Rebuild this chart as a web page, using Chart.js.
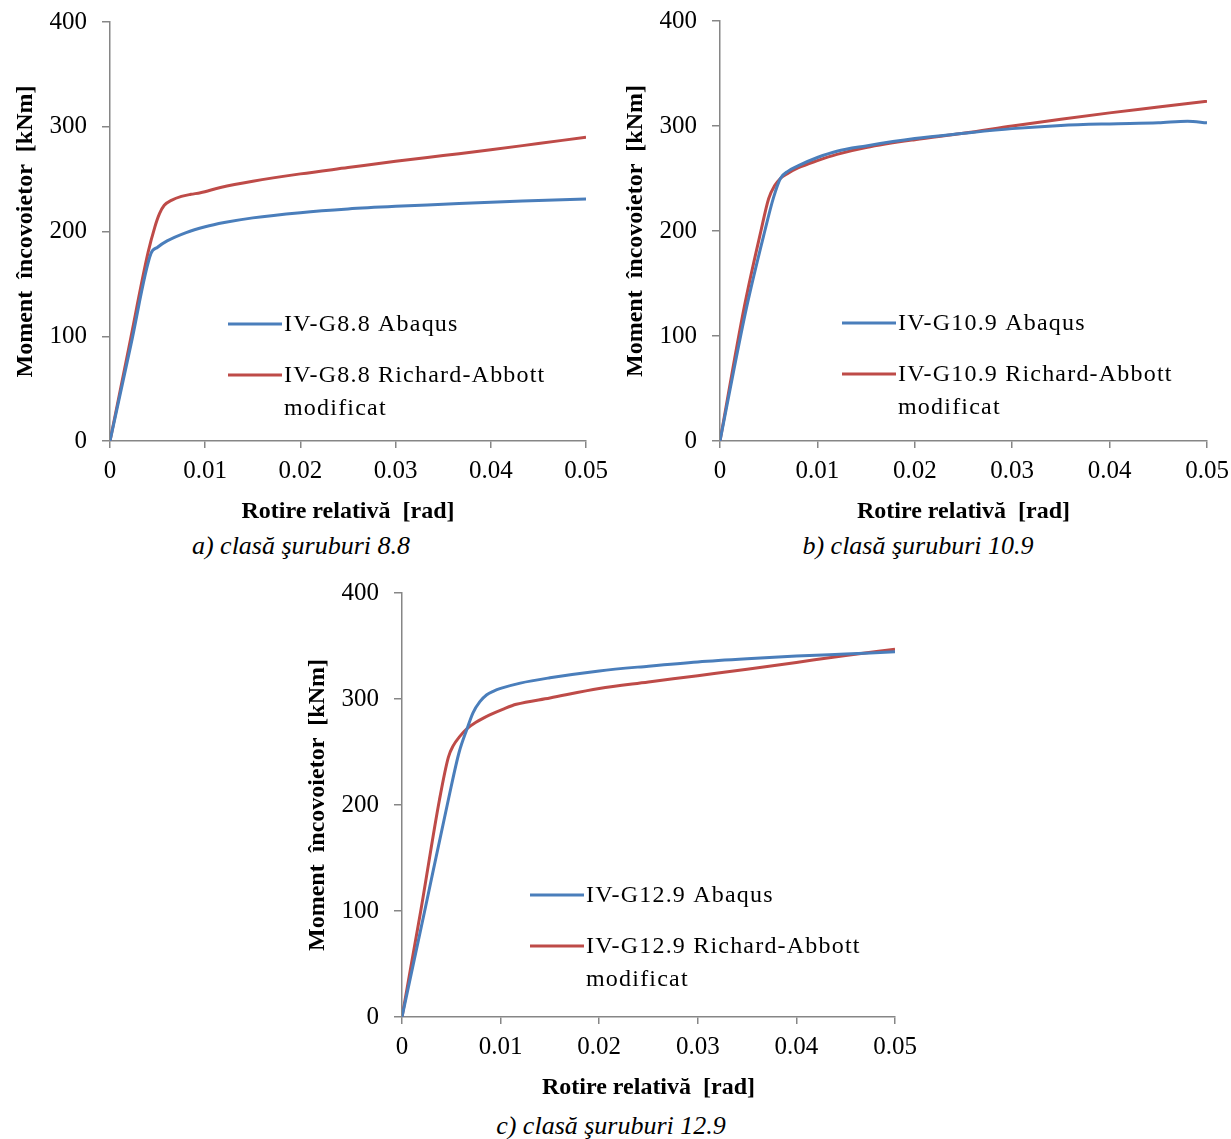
<!DOCTYPE html>
<html>
<head>
<meta charset="utf-8">
<script src="https://cdn.jsdelivr.net/npm/chart.js@4.4.0/dist/chart.umd.min.js"></script>
<style>
body { margin: 0; background: #fff; width: 1231px; height: 1139px; position: relative; overflow: hidden; }
canvas { position: absolute; }
.cap { position: absolute; font: italic 26px "Liberation Serif"; line-height: 30px; color: #000; white-space: nowrap; transform: translateX(-50%); }
</style>
</head>
<body>
<canvas id="graficoA" width="615" height="530" style="left:0;top:0"></canvas>
<canvas id="graficoB" width="621" height="530" style="left:610px;top:0"></canvas>
<canvas id="graficoC" width="640" height="535" style="left:292px;top:571px"></canvas>
<div class="cap" style="left:301px;top:531px">a) clasă şuruburi 8.8</div>
<div class="cap" style="left:918px;top:531px">b) clasă şuruburi 10.9</div>
<div class="cap" style="left:611px;top:1111px">c) clasă şuruburi 12.9</div>
<script>
// datos leidos del grafico
// a) 8.8
const rotA_abaqus = [0, 0.0022, 0.0043, 0.005, 0.006, 0.008, 0.010, 0.012, 0.015, 0.020, 0.025, 0.030, 0.035, 0.040, 0.045, 0.050];
const momA_abaqus = [0, 92, 179, 185, 191, 199, 204.5, 208.5, 213, 218, 221.5, 224, 226, 228, 229.5, 231];
const rotA_ra = [0, 0.002, 0.004, 0.0047, 0.0052, 0.0057, 0.0065, 0.0075, 0.0085, 0.0095, 0.0116, 0.015, 0.020, 0.025, 0.030, 0.035, 0.040, 0.045, 0.050];
const momA_ra = [0, 90, 180, 204, 217, 225, 230, 233.5, 235.5, 237, 242, 248, 255, 261, 267, 272.5, 278, 284, 290];

// b) 10.9
const rotB_abaqus = [0, 0.0027, 0.0046, 0.0055, 0.0062, 0.007, 0.008, 0.010, 0.012, 0.015, 0.020, 0.025, 0.030, 0.035, 0.040, 0.045, 0.048, 0.050];
const momB_abaqus = [0, 126, 200, 232, 250, 257, 262, 270, 276, 281, 288, 293, 297.5, 300.5, 302, 303, 304.5, 303];
const rotB_ra = [0, 0.0025, 0.0042, 0.005, 0.0056, 0.0062, 0.007, 0.008, 0.010, 0.012, 0.015, 0.020, 0.025, 0.030, 0.035, 0.040, 0.045, 0.050];
const momB_ra = [0, 128, 200, 231, 243, 250, 255, 260, 267, 273, 279.5, 287, 293, 300, 306.5, 312.5, 318, 323.5];

// c) 12.9
const rotC_abaqus = [0, 0.0023, 0.0047, 0.0058, 0.0066, 0.0072, 0.0079, 0.0086, 0.0093, 0.010, 0.012, 0.015, 0.020, 0.025, 0.030, 0.035, 0.040, 0.045, 0.050];
const momC_abaqus = [0, 100, 205, 250, 272, 287, 297.5, 304, 307.5, 310, 315, 320, 326.5, 331, 335, 338, 340.5, 342.5, 344.5];
const rotC_ra = [0, 0.0019, 0.0038, 0.0047, 0.0052, 0.0058, 0.0066, 0.0075, 0.0089, 0.0104, 0.0116, 0.015, 0.020, 0.025, 0.030, 0.035, 0.040, 0.045, 0.050];
const momC_ra = [0, 100, 205, 245, 256, 264, 272, 278, 285, 291, 295, 301, 310, 316, 322, 328, 334.5, 341, 347];

const ticksX = [0, 0.01, 0.02, 0.03, 0.04, 0.05];
const ticksY = [0, 100, 200, 300, 400];

const leyendaA = [['IV-G8.8 Abaqus'], ['IV-G8.8 Richard-Abbott', 'modificat']];
const leyendaB = [['IV-G10.9 Abaqus'], ['IV-G10.9 Richard-Abbott', 'modificat']];
const leyendaC = [['IV-G12.9 Abaqus'], ['IV-G12.9 Richard-Abbott', 'modificat']];

const AZUL = '#4A7EBB';
const ROJO = '#BE4B48';
const GRIS = '#868686';
const FUENTE = '"Liberation Serif", "Times New Roman", serif';

function puntos(xs, ys) {
    return xs.map((x, i) => ({ x: x, y: ys[i] }));
}

// leyenda dentro del area (con texto en dos lineas)
const leyendaPropia = {
    id: 'leyendaPropia',
    afterDatasetsDraw(chart, args, opts) {
        const ctx = chart.ctx;
        const area = chart.chartArea;
        const x = area.left + opts.left;
        let y = area.top + opts.top;
        ctx.save();
        ctx.font = '24px ' + FUENTE;
        ctx.letterSpacing = '1.2px';
        ctx.textBaseline = 'middle';
        ctx.textAlign = 'left';
        chart.data.datasets.forEach((ds, i) => {
            ctx.strokeStyle = ds.borderColor;
            ctx.lineWidth = 3;
            ctx.beginPath();
            ctx.moveTo(x, y);
            ctx.lineTo(x + 54, y);
            ctx.stroke();
            ctx.fillStyle = '#000';
            opts.textos[i].forEach((t, j) => ctx.fillText(t, x + 56, y + 1 + j * 33));
            y += 51;
        });
        ctx.restore();
    }
};

function crearGrafico(id, abaqus, ra, textos, pad, leg) {
    const alto = document.getElementById(id).height;
    return new Chart(document.getElementById(id), {
        type: 'line',
        data: {
            datasets: [{
                label: textos[0].join(' '),
                data: abaqus,
                borderColor: AZUL,
                borderWidth: 3,
                pointRadius: 0,
                fill: false,
                cubicInterpolationMode: 'monotone'
            }, {
                label: textos[1].join(' '),
                data: ra,
                borderColor: ROJO,
                borderWidth: 3,
                pointRadius: 0,
                fill: false,
                cubicInterpolationMode: 'monotone'
            }]
        },
        options: {
            responsive: false,
            animation: false,
            layout: { padding: { top: pad.top, right: pad.right, bottom: 0, left: 0 } },
            plugins: {
                legend: { display: false },
                tooltip: { enabled: false },
                leyendaPropia: { left: leg.left, top: leg.top, textos: textos }
            },
            scales: {
                x: {
                    type: 'linear',
                    min: 0,
                    max: 0.05,
                    afterBuildTicks: s => { s.ticks = ticksX.map(v => ({ value: v })); },
                    afterFit: s => {
                        s.height = alto - pad.bottom;
                        s.paddingLeft = 0;
                        s.paddingRight = 0;
                    },
                    ticks: {
                        callback: v => v === 0 ? '0' : v.toFixed(2),
                        color: '#000',
                        font: { family: FUENTE, size: 25 },
                        padding: 8,
                        maxRotation: 0,
                        autoSkip: false
                    },
                    grid: { drawOnChartArea: false, tickLength: 7, color: GRIS, lineWidth: 1.5 },
                    border: { color: GRIS, width: 1.5 },
                    title: {
                        display: true,
                        text: 'Rotire relativă  [rad]',
                        color: '#000',
                        font: { family: FUENTE, size: 24, weight: 'bold' },
                        padding: { top: 0, bottom: 4 }
                    }
                },
                y: {
                    min: 0,
                    max: 400,
                    afterBuildTicks: s => { s.ticks = ticksY.map(v => ({ value: v })); },
                    afterFit: s => {
                        s.width = 110;
                        s.paddingTop = 0;
                        s.paddingBottom = 0;
                    },
                    ticks: {
                        color: '#000',
                        font: { family: FUENTE, size: 25 },
                        padding: 15
                    },
                    grid: { drawOnChartArea: false, tickLength: 8, color: GRIS, lineWidth: 1.5 },
                    border: { color: GRIS, width: 1.5 },
                    title: {
                        display: true,
                        text: 'Moment  încovoietor  [kNm]',
                        color: '#000',
                        font: { family: FUENTE, size: 24, weight: 'bold' },
                        padding: { top: 11, bottom: 0 }
                    }
                }
            }
        },
        plugins: [leyendaPropia]
    });
}

crearGrafico('graficoA', puntos(rotA_abaqus, momA_abaqus), puntos(rotA_ra, momA_ra), leyendaA,
    { top: 22, right: 29, bottom: 441 }, { left: 118, top: 302 });
crearGrafico('graficoB', puntos(rotB_abaqus, momB_abaqus), puntos(rotB_ra, momB_ra), leyendaB,
    { top: 21, right: 24, bottom: 441 }, { left: 122, top: 302 });
crearGrafico('graficoC', puntos(rotC_abaqus, momC_abaqus), puntos(rotC_ra, momC_ra), leyendaC,
    { top: 22, right: 37, bottom: 446 }, { left: 128, top: 302 });
</script>
</body>
</html>
